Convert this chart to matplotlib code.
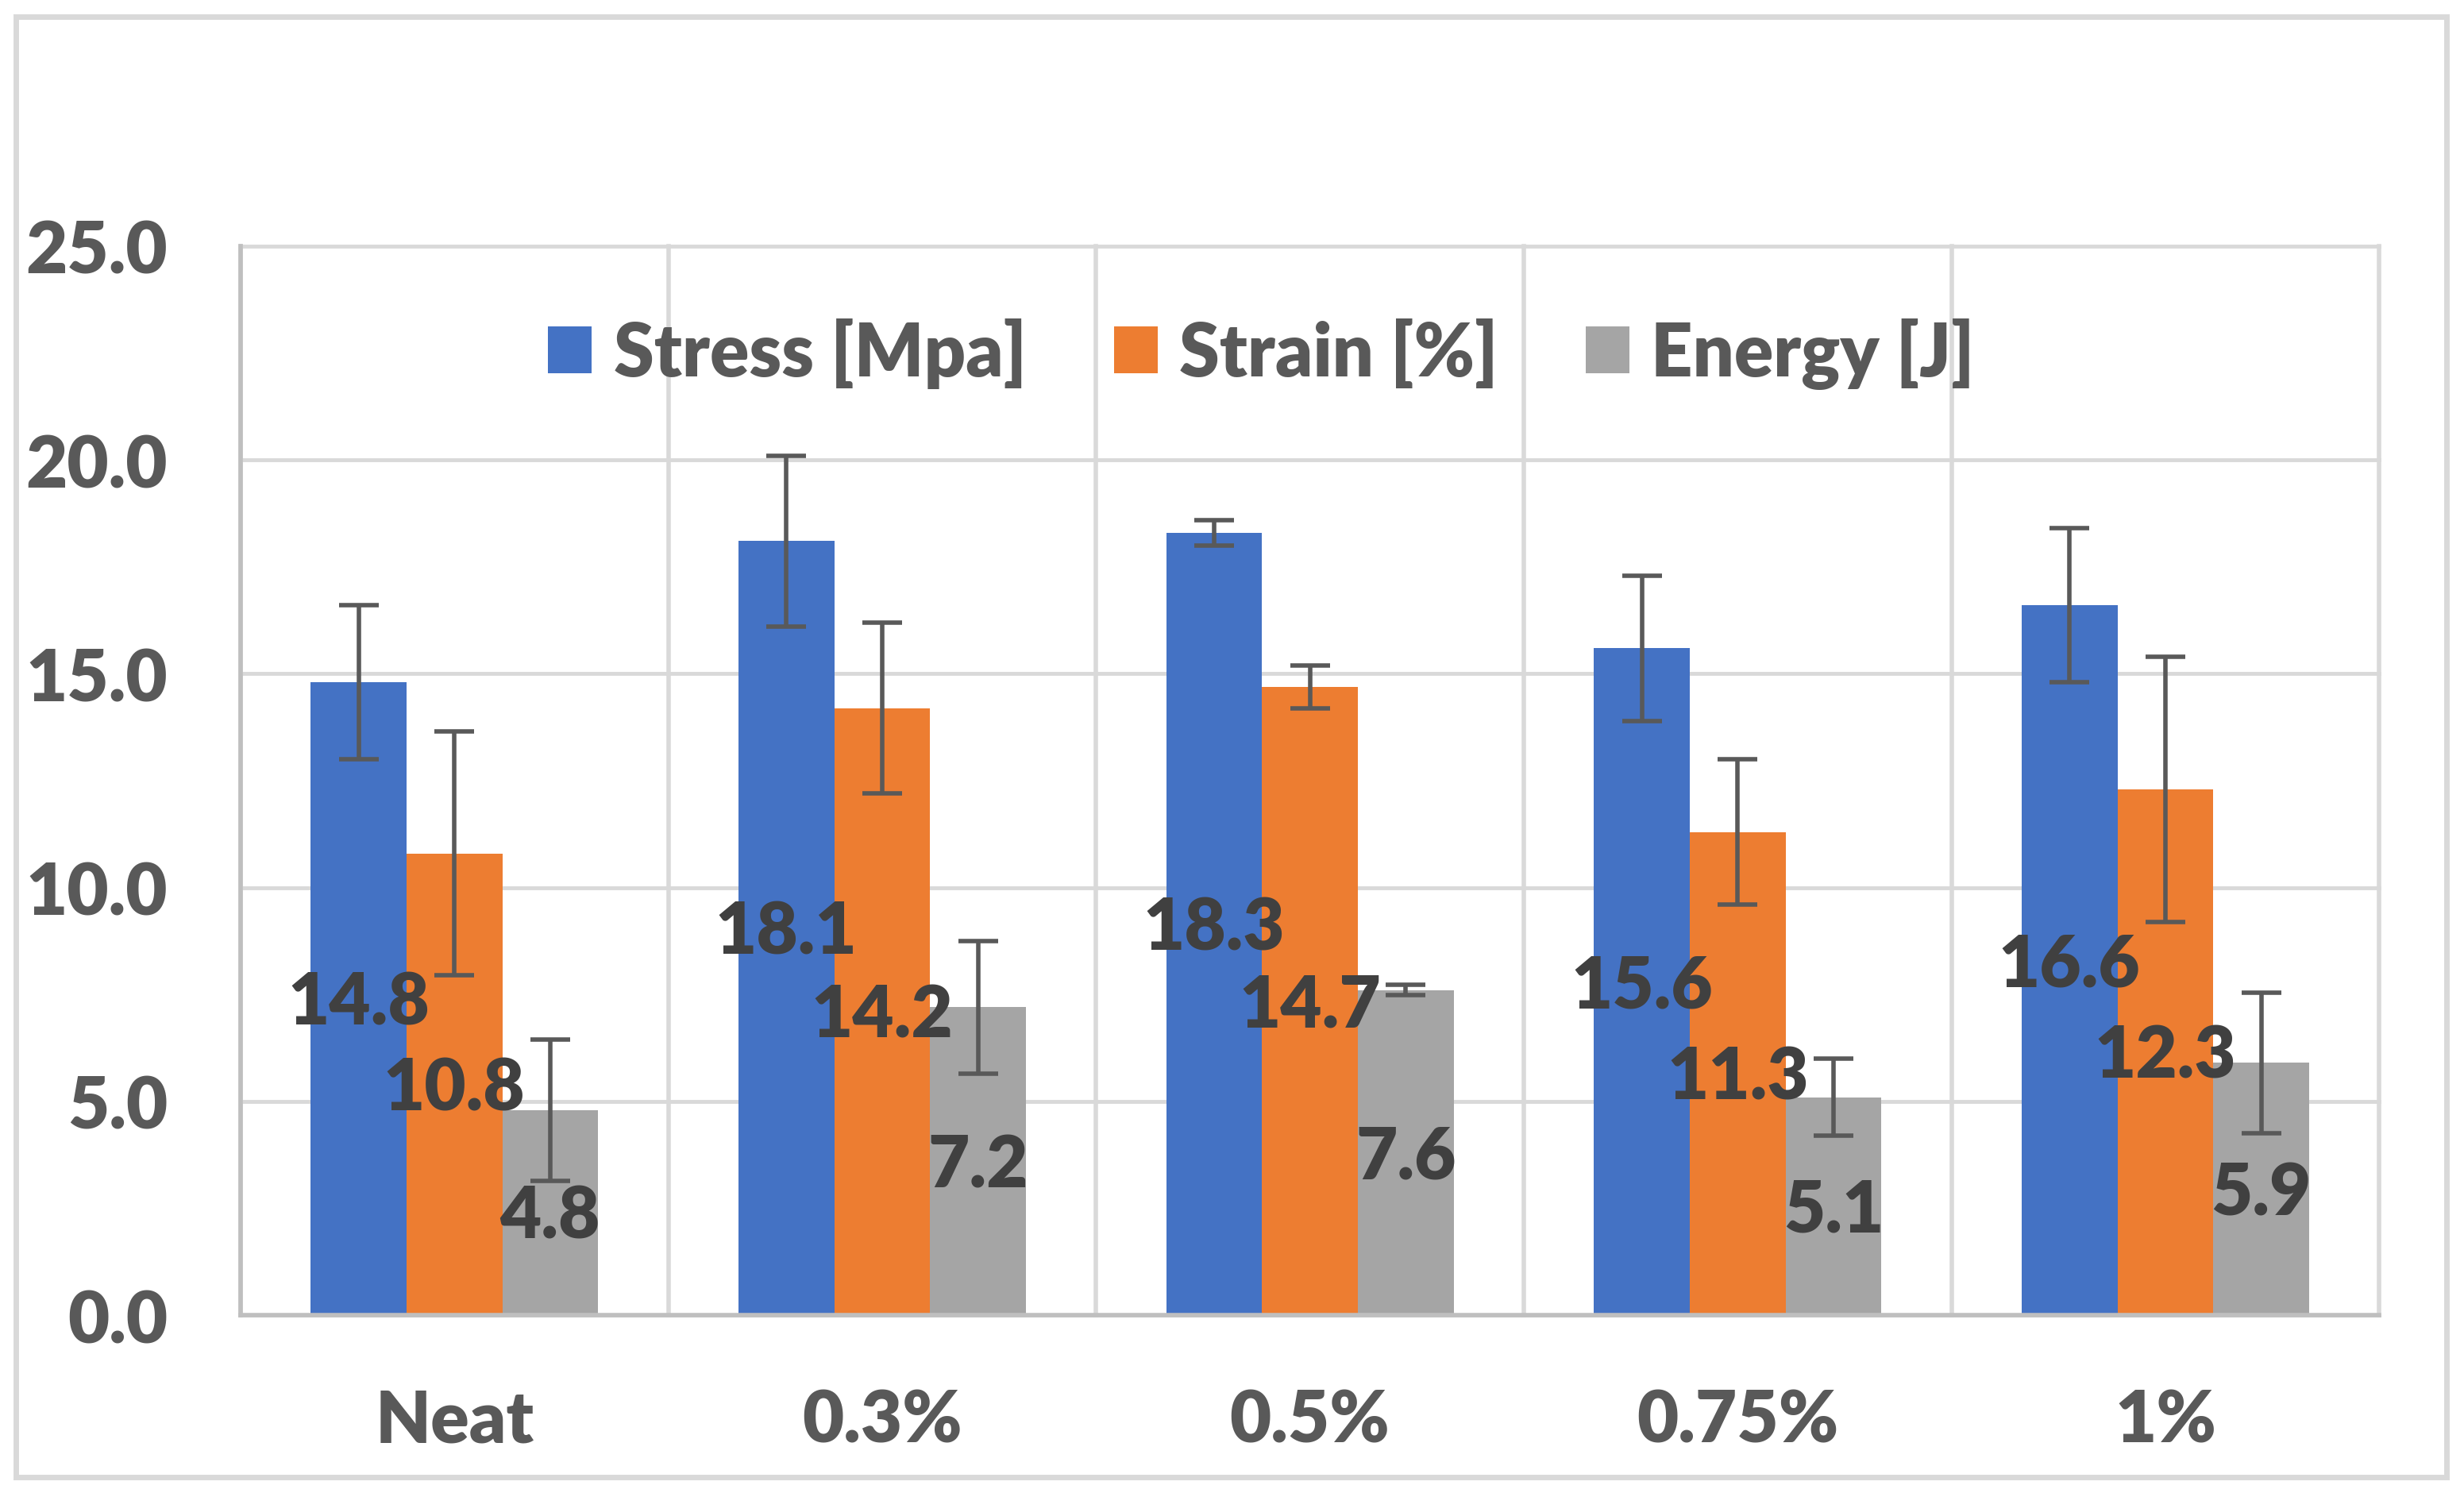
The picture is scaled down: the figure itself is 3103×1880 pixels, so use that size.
import numpy as np
import matplotlib.pyplot as plt
from matplotlib.patches import Rectangle

# data
categories = ["Neat", "0.3%", "0.5%", "0.75%", "1%"]
stress = [14.8, 18.1, 18.3, 15.6, 16.6]
strain = [10.8, 14.2, 14.7, 11.3, 12.3]
energy = [4.8, 7.2, 7.6, 5.1, 5.9]
stress_err = [1.8, 2.0, 0.3, 1.7, 1.8]
strain_err = [2.85, 2.0, 0.5, 1.7, 3.1]
energy_err = [1.65, 1.55, 0.12, 0.9, 1.65]
series_names = ["Stress [Mpa]", "Strain [%]", "Energy [J]"]
colors = ["#4472C4", "#ED7D31", "#A5A5A5"]

plt.rcParams['font.family'] = ['Lato', 'DejaVu Sans']
FW = 'heavy'

fig = plt.figure(figsize=(31.03, 18.81), dpi=100)
ax = fig.add_axes([0.0976, 0.119, 0.868, 0.7157])

x = np.arange(len(categories))
w = 0.224
series = [stress, strain, energy]
errs = [stress_err, strain_err, energy_err]

for i, (vals, err, name, c) in enumerate(zip(series, errs, series_names, colors)):
    pos = x + (i - 1) * w
    ax.bar(pos, vals, width=w, color=c, label=name, zorder=2)
    ax.errorbar(pos, vals, yerr=err, fmt='none', ecolor='#595959',
                elinewidth=4, capsize=18, capthick=4, zorder=3)
    for px, v in zip(pos, vals):
        ax.text(px, v / 2 - 0.1, f"{v:.1f}", ha='center', va='center',
                fontsize=65, fontweight=FW, color='#404040', zorder=4)

ax.set_xlim(-0.5, len(categories) - 0.5)
ax.set_ylim(0, 25)
ax.set_yticks(np.arange(0, 26, 5))
ax.set_yticklabels([f"{t:.1f}" for t in np.arange(0, 26, 5)])
ax.set_xticks(x)
ax.set_xticklabels(categories)
ax.set_xticks(np.arange(-0.5, len(categories), 1), minor=True)

ax.tick_params(axis='both', which='both', length=0, labelsize=65,
               labelcolor='#595959')
ax.tick_params(axis='y', pad=66)
ax.tick_params(axis='x', pad=66)
for lab in ax.get_xticklabels() + ax.get_yticklabels():
    lab.set_fontweight(FW)

ax.grid(axis='y', which='major', color='#D9D9D9', lw=3.5, zorder=0)
ax.grid(axis='x', which='minor', color='#D9D9D9', lw=4, zorder=0)
ax.grid(axis='x', which='major', visible=False)
for t in ax.yaxis.get_major_ticks() + ax.xaxis.get_minor_ticks():
    t.gridline.set_clip_on(False)

for s in ['top', 'right']:
    ax.spines[s].set_visible(False)
for s in ['left', 'bottom']:
    ax.spines[s].set_color('#BFBFBF')
    ax.spines[s].set_linewidth(4)
    ax.spines[s].set_zorder(5)

ax.legend(loc='center', bbox_to_anchor=(0.512, 0.763), bbox_transform=fig.transFigure,
          ncol=3, frameon=False, labelcolor='#595959',
          prop={'weight': FW, 'size': 66},
          handlelength=0.6, handleheight=0.6, handletextpad=0.3, columnspacing=1.2)

# outer chart border
fig.patches.append(Rectangle((0.0064, 0.0105), 0.9866, 0.9779, transform=fig.transFigure,
                             fill=False, edgecolor='#D9D9D9', lw=5))

fig.savefig("out.png", dpi=100)
